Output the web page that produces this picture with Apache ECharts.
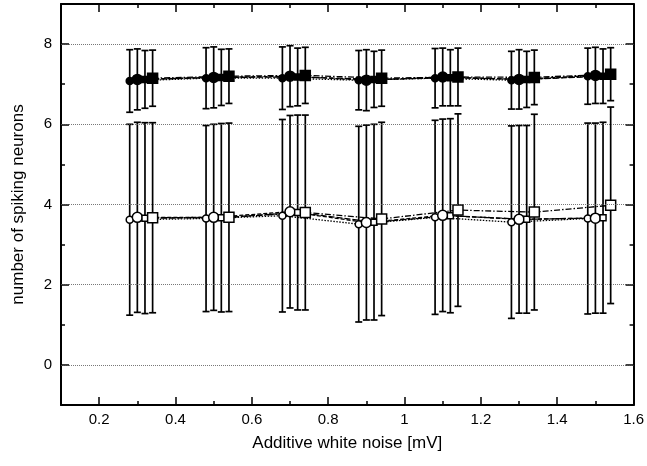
<!DOCTYPE html>
<html>
<head>
<meta charset="utf-8">
<script src="https://cdn.jsdelivr.net/npm/echarts@6/dist/echarts.min.js"></script>
<style>
  html, body { margin: 0; padding: 0; background: #fff; }
  #chart { width: 647px; height: 466px; }
</style>
</head>
<body>
<div id="chart"></div>
<script>
// Noise amplitudes (mV) at which each of the four conditions was measured
const xSmallCircle = [0.28, 0.48, 0.68, 0.88, 1.08, 1.28, 1.48];
const xBigCircle   = [0.30, 0.50, 0.70, 0.90, 1.10, 1.30, 1.50];
const xSmallSquare = [0.32, 0.52, 0.72, 0.92, 1.12, 1.32, 1.52];
const xBigSquare   = [0.34, 0.54, 0.74, 0.94, 1.14, 1.34, 1.54];

// Upper family (filled markers): mean and standard deviation
const fSmallCircle    = [7.08, 7.15, 7.15, 7.10, 7.15, 7.10, 7.20];
const fSmallCircleErr = [0.78, 0.76, 0.78, 0.74, 0.74, 0.72, 0.70];
const fBigCircle      = [7.12, 7.17, 7.20, 7.10, 7.18, 7.12, 7.22];
const fBigCircleErr   = [0.76, 0.76, 0.76, 0.76, 0.72, 0.74, 0.70];
const fSmallSquare    = [7.12, 7.17, 7.18, 7.12, 7.16, 7.12, 7.20];
const fSmallSquareErr = [0.72, 0.70, 0.72, 0.70, 0.70, 0.70, 0.68];
const fBigSquare      = [7.15, 7.20, 7.22, 7.15, 7.18, 7.17, 7.25];
const fBigSquareErr   = [0.70, 0.68, 0.70, 0.70, 0.72, 0.68, 0.66];

// Lower family (open markers): mean and standard deviation
const oSmallCircle    = [3.62, 3.65, 3.72, 3.51, 3.68, 3.56, 3.65];
const oSmallCircleErr = [2.38, 2.32, 2.40, 2.44, 2.42, 2.40, 2.38];
const oBigCircle      = [3.68, 3.68, 3.82, 3.55, 3.73, 3.63, 3.66];
const oBigCircleErr   = [2.37, 2.32, 2.40, 2.43, 2.40, 2.34, 2.37];
const oSmallSquare    = [3.66, 3.67, 3.80, 3.56, 3.72, 3.63, 3.67];
const oSmallSquareErr = [2.38, 2.35, 2.43, 2.44, 2.42, 2.34, 2.38];
const oBigSquare      = [3.67, 3.68, 3.80, 3.64, 3.86, 3.81, 3.98];
const oBigSquareErr   = [2.37, 2.35, 2.43, 2.41, 2.40, 2.44, 2.45];

// Axis ticks
const xMajorTicks = [0.2, 0.4, 0.6, 0.8, 1.0, 1.2, 1.4, 1.6];
const xMinorTicks = [0.1, 0.3, 0.5, 0.7, 0.9, 1.1, 1.3, 1.5];
const yMajorTicks = [0, 2, 4, 6, 8];
const yMinorTicks = [1, 3, 5, 7];

const FONT = '"Liberation Sans", Arial, Helvetica, sans-serif';

const pairs = (xs, ys) => xs.map((x, i) => [x, ys[i]]);
const bars = (xs, ys, es) => xs.map((x, i) => [x, ys[i] - es[i], ys[i] + es[i]]);

function errorBars(data) {
  return {
    type: 'custom',
    xAxisIndex: 0, yAxisIndex: 0,
    z: 2,
    silent: true,
    renderItem(params, api) {
      const x = api.value(0);
      const lo = api.coord([x, api.value(1)]);
      const hi = api.coord([x, api.value(2)]);
      const cap = 3.5;
      const style = { stroke: '#000', lineWidth: 1.7 };
      return {
        type: 'group',
        children: [
          { type: 'line', shape: { x1: hi[0], y1: hi[1], x2: lo[0], y2: lo[1] }, style },
          { type: 'line', shape: { x1: hi[0] - cap, y1: hi[1], x2: hi[0] + cap, y2: hi[1] }, style },
          { type: 'line', shape: { x1: lo[0] - cap, y1: lo[1], x2: lo[0] + cap, y2: lo[1] }, style }
        ]
      };
    },
    encode: { x: 0, y: [1, 2] },
    data
  };
}

function lineSeries(data, symbol, size, filled, dash) {
  return {
    type: 'line',
    xAxisIndex: 0, yAxisIndex: 0,
    z: 3,
    silent: true,
    symbol,
    symbolSize: size,
    showAllSymbol: true,
    lineStyle: { color: '#000', width: 1.3, type: dash },
    itemStyle: { color: filled ? '#000' : '#fff', borderColor: '#000', borderWidth: 1.5 },
    data
  };
}

const dotted = [1.5, 1.5];
const dashed = [4, 2];
const longDash = [6, 2];
const dashDot = [6, 2, 1.5, 2];

const series = [
  errorBars(bars(xSmallCircle, fSmallCircle, fSmallCircleErr)),
  errorBars(bars(xBigCircle, fBigCircle, fBigCircleErr)),
  errorBars(bars(xSmallSquare, fSmallSquare, fSmallSquareErr)),
  errorBars(bars(xBigSquare, fBigSquare, fBigSquareErr)),
  errorBars(bars(xSmallCircle, oSmallCircle, oSmallCircleErr)),
  errorBars(bars(xBigCircle, oBigCircle, oBigCircleErr)),
  errorBars(bars(xSmallSquare, oSmallSquare, oSmallSquareErr)),
  errorBars(bars(xBigSquare, oBigSquare, oBigSquareErr)),
  lineSeries(pairs(xSmallCircle, fSmallCircle), 'circle', 7, true, dotted),
  lineSeries(pairs(xBigCircle, fBigCircle), 'circle', 10, true, dashed),
  lineSeries(pairs(xSmallSquare, fSmallSquare), 'rect', 6, true, longDash),
  lineSeries(pairs(xBigSquare, fBigSquare), 'rect', 10, true, dashDot),
  lineSeries(pairs(xSmallCircle, oSmallCircle), 'circle', 7, false, dotted),
  lineSeries(pairs(xBigCircle, oBigCircle), 'circle', 10, false, dashed),
  lineSeries(pairs(xSmallSquare, oSmallSquare), 'rect', 6, false, longDash),
  lineSeries(pairs(xBigSquare, oBigSquare), 'rect', 10, false, dashDot)
];

// Horizontal dotted guide lines at the major y ticks
series.push({
  type: 'line',
  xAxisIndex: 0, yAxisIndex: 0,
  data: [],
  z: 1,
  markLine: {
    silent: true,
    symbol: 'none',
    label: { show: false },
    lineStyle: { color: '#555', width: 0.8, type: [1, 1] },
    data: yMajorTicks.map(v => ({ yAxis: v }))
  }
});

const X_MIN = 0.1, X_MAX = 1.6, Y_MIN = -1, Y_MAX = 9;
const axisLine = { show: true, onZero: false, lineStyle: { color: '#000', width: 2 } };
const hiddenLine = { show: false, onZero: false };

function xAxis(position, ticks, len, labels, extra) {
  return Object.assign({
    type: 'value', position, min: X_MIN, max: X_MAX,
    axisLine: labels === null ? hiddenLine : axisLine,
    axisTick: { show: true, inside: true, length: len, customValues: ticks, lineStyle: { color: '#000', width: 1.5 } },
    axisLabel: labels ? {
      show: true, customValues: labels, margin: 7,
      color: '#000', fontFamily: FONT, fontSize: 15,
      formatter: v => String(Math.round(v * 10) / 10)
    } : { show: false },
    splitLine: { show: false }
  }, extra || {});
}

function yAxis(position, ticks, len, labels, extra) {
  return Object.assign({
    type: 'value', position, min: Y_MIN, max: Y_MAX,
    axisLine: labels === null ? hiddenLine : axisLine,
    axisTick: { show: true, inside: true, length: len, customValues: ticks, lineStyle: { color: '#000', width: 1.5 } },
    axisLabel: labels ? {
      show: true, customValues: labels, margin: 9,
      color: '#000', fontFamily: FONT, fontSize: 15
    } : { show: false },
    splitLine: { show: false }
  }, extra || {});
}

const option = {
  animation: false,
  backgroundColor: '#fff',
  grid: { left: 61, right: 11, top: 4, bottom: 61, containLabel: false },
  xAxis: [
    xAxis('bottom', xMajorTicks, 8, xMajorTicks, {
      name: 'Additive white noise [mV]', nameLocation: 'middle', nameGap: 30,
      nameTextStyle: { color: '#000', fontFamily: FONT, fontSize: 17 }
    }),
    xAxis('bottom', xMinorTicks, 4, null),
    xAxis('top', xMajorTicks, 8, false),
    xAxis('top', xMinorTicks, 4, null)
  ],
  yAxis: [
    yAxis('left', yMajorTicks, 8, yMajorTicks, {
      name: 'number of spiking neurons', nameLocation: 'middle', nameGap: 34,
      nameTextStyle: { color: '#000', fontFamily: FONT, fontSize: 17 }
    }),
    yAxis('left', yMinorTicks, 4, null),
    yAxis('right', yMajorTicks, 8, false),
    yAxis('right', yMinorTicks, 4, null)
  ],
  series
};

const chart = echarts.init(document.getElementById('chart'), null, { renderer: 'canvas' });
chart.setOption(option);
</script>
</body>
</html>
